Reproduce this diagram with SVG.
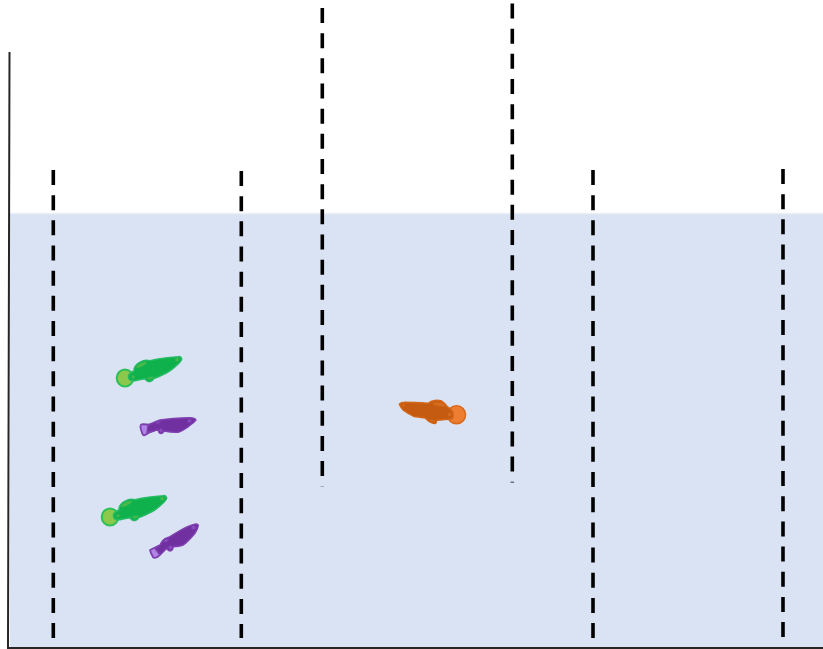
<svg xmlns="http://www.w3.org/2000/svg" width="823" height="649" viewBox="0 0 823 649">
  <style>
    .divider { fill: none; stroke: #000; stroke-width: 3.6; stroke-dasharray: 15 10.17; }
    .tank { fill: none; stroke: #262626; stroke-width: 2; }
    .green-body { fill: #0fb14c; stroke: #25bb62; stroke-width: 1.6; stroke-linejoin: round; }
    .green-fin { fill: #4fb948; stroke: #1cb455; stroke-width: 1; }
    .green-tail { fill: #8cc84b; stroke: #2cc05a; stroke-width: 2; }
    .purple-body { fill: #7030a0; stroke: #7f40b0; stroke-width: 1.4; stroke-linejoin: round; }
    .purple-fin { fill: #8a4fbe; stroke: #7a38ac; stroke-width: 1; }
    .purple-tail { fill: #b184e6; stroke: #7d3fb0; stroke-width: 1.8; stroke-linejoin: round; }
    .orange-body { fill: #c55a11; stroke: #d2681c; stroke-width: 1.4; stroke-linejoin: round; }
    .orange-fin { fill: #d56c20; stroke: #c9600f; stroke-width: 1; }
    .orange-tail { fill: #ed7d31; stroke: #d96a1c; stroke-width: 1.6; }
  </style>
  <defs>
    <g id="green-fish">
      <ellipse class="green-tail" cx="125" cy="378" rx="8.300" ry="8.500"/>
      <path class="green-body" d="M181.700 359 C181 356.800 180 356.500 178.300 356.700 C173 357 168 357.500 163.300 358.300 C158 359 154 359.800 150 360.700 C147 360 145 360 143.300 360.700 C139.500 362 136.500 364.500 135 366.700 C134 368 134 369.500 134 371 C132 372.500 130 373 129 374.500 C128 376.500 128.500 379 130 380 C132 381 133.500 380.800 135 380.600 C138.500 380 142 379.200 145 378.600 C146 380.500 147 381.500 148.300 381.500 C150.500 381.500 152.500 380.500 153.300 378.800 C158 377 162.500 375 166.700 372.800 C171 370.500 175 367 178.300 363.800 C180.500 361.800 181.500 360.500 181.700 359 Z"/>
      <path class="green-fin" d="M135.500 368 C137 365 140.500 362.500 144.500 361.800 C147 361.500 147.500 362.800 146 364 C143 366.500 138.500 368.800 135.500 368 Z"/>
      <path class="green-fin" d="M146.500 377.500 C148.500 376.800 151.500 376.500 153.800 376.500 C152.500 379.500 148.500 380.800 146.500 377.500 Z"/>
      <circle class="green-fin" cx="133" cy="376.800" r="1.800"/>
      <circle class="green-fin" cx="177" cy="359.800" r="2"/>
    </g>
  </defs>

  <!-- water filling the tank up to the surface line -->
  <rect x="10" y="213.500" width="813" height="434" fill="#dae3f3"/>
  <line x1="10" y1="213.500" x2="823" y2="213.500" stroke="#eaeff8" stroke-width="1.500"/>

  <g id="tank">
    <path class="tank" d="M9.500 52 L8 648 L823 648"/>
  </g>

  <g id="dividers">
    <line class="divider" x1="53.300" y1="170" x2="53.300" y2="638"/>
    <line class="divider" x1="241.300" y1="171" x2="241.300" y2="638"/>
    <line class="divider" x1="322.300" y1="8" x2="322.300" y2="486.500"/>
    <line class="divider" x1="512.300" y1="3.500" x2="512.300" y2="482.500"/>
    <line class="divider" x1="593" y1="170" x2="593" y2="638"/>
    <line class="divider" x1="783" y1="169" x2="783" y2="638"/>
  </g>

  <g id="fish-green-1"><use href="#green-fish"/></g>
  <g id="fish-green-2"><use href="#green-fish" transform="translate(-15 139)"/></g>

  <g id="fish-purple-1">
    <path class="purple-tail" d="M141.700 424.300 C145 424 148 424.500 151 425 L154 431 C151 431.800 148 433 146 434.500 C144 436 143 435.500 142.500 434 C141.500 431 140 428 140.500 426 C140.700 425 141 424.500 141.700 424.300 Z"/>
    <path class="purple-body" d="M196 420 C195 418 192 417.700 190 417.700 C180 418 170 418.500 160 420 C156.500 421 152 423.500 148 425 L147 432.500 C151 431.500 155 430.500 158.300 430 C158.500 432 159 433.300 160.500 433.500 C162.500 433.500 163.500 432.500 164 431 C169 432 174 432.500 178.300 432.300 C182 431.500 185 429 188.300 426.700 C191 424.500 194 422.500 196 420 Z"/>
    <path class="purple-fin" d="M155.500 423.500 C156.500 422 158.500 421.500 160.500 421.300 C160 423.500 157.500 424.500 155.500 423.500 Z"/>
    <circle class="purple-fin" cx="161" cy="430.500" r="2"/>
    <circle class="purple-fin" cx="189.500" cy="421" r="2"/>
  </g>

  <g id="fish-purple-2">
    <path class="purple-tail" d="M150 550 C153 548.500 156 547 159 545.500 L164 549.500 C162 551.500 160.500 554 158.300 556.500 C156 558 154.500 558 153.300 557.500 C152 555.500 150.500 552.500 150 550 Z"/>
    <path class="purple-body" d="M198.300 525.300 C198 524 196.500 523.800 195 524.200 C193 524.700 191.500 525 190 525.700 C183 528.500 176.500 532.500 170 536.700 C167 537.800 164.500 538.500 163.300 540 C161.500 541.500 161 543.500 160 545 L155 548.500 L160 555 C162.500 552.500 164.500 550.500 166.700 548.300 C167.500 550 168.500 551 170 551 C172 551 173 549 173.300 546.700 C177 546.500 180.500 546 183.300 545 C187.500 542 191.500 537.500 195 533.300 C196.500 531 198 528 198.300 525.300 Z"/>
    <path class="purple-fin" d="M163 541 C164.500 539.500 166.500 539 168.500 539 C168.500 541.500 165 543.500 163 541 Z"/>
    <circle class="purple-fin" cx="170.500" cy="547.500" r="2"/>
    <circle class="purple-fin" cx="193.500" cy="527.500" r="2.200"/>
  </g>

  <g id="fish-orange">
    <circle class="orange-tail" cx="456.500" cy="414.700" r="9"/>
    <path class="orange-body" d="M399.300 404 C400.500 402.800 402.500 402.300 405 402.300 C413 402.300 421 402.800 428.300 403.300 C430 402 431.500 401 433.300 400.700 C436 400 439 400.200 441.700 401 C444 402.500 446 404.500 447.300 406.700 C449.500 408 451.500 409.500 452.700 411.500 C453.500 414 453.500 416.500 452.700 418.500 C450 419.500 447 419.500 445 419.500 C442 420 439.500 420.300 436.700 420.300 C436.500 422 436 423.500 435 423.500 C433 423.700 431.500 423 430 422 C428 421 426.500 419.300 425 418 C421 417.500 417 417 413.300 416.200 C409.500 414.300 406 412.300 403.300 410.300 C401.500 408 399.800 406 399.300 404 Z"/>
    <path class="orange-fin" d="M431.500 403.500 C435 401.500 440 401.500 443 403 C445 404.500 446 406 446 407 C441 407 435 406 431.500 403.500 Z"/>
    <path class="orange-fin" d="M428 419.500 C431 419.500 434 419.800 436.500 420.300 C435 422.800 431 422.500 428 419.500 Z"/>
    <circle class="orange-fin" cx="449.500" cy="414.500" r="2"/>
    <circle class="orange-fin" cx="403.500" cy="405" r="1.500"/>
  </g>
</svg>
